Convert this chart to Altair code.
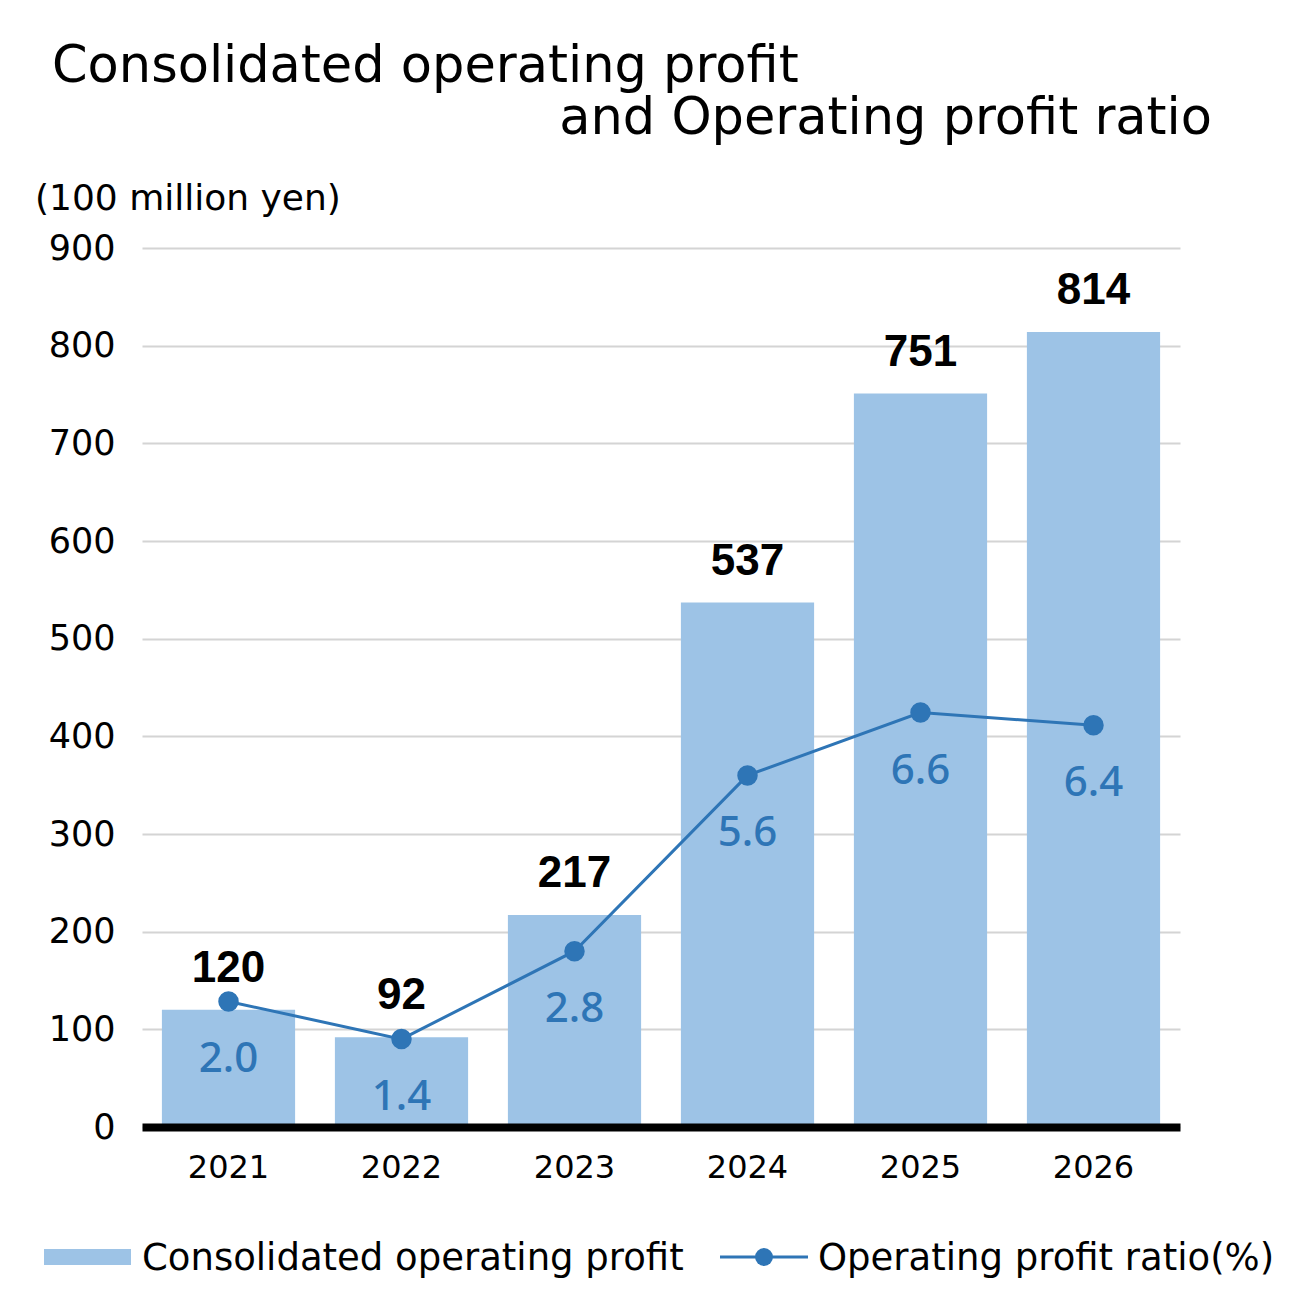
import altair as alt
import pandas as pd

# Fiscal years and values
years = ["2021", "2022", "2023", "2024", "2025", "2026"]
profit = [120, 92, 217, 537, 751, 814]          # 100 million yen
ratio = [2.0, 1.4, 2.8, 5.6, 6.6, 6.4]          # %
ratio_labels = ["2.0", "1.4", "2.8", "5.6", "6.6", "6.4"]
y_ticks = [0, 100, 200, 300, 400, 500, 600, 700, 800, 900]

title_lines = ["Consolidated operating profit", "and Operating profit ratio"]
unit_label = "(100 million yen)"
legend_labels = ["Consolidated operating profit", "Operating profit ratio(%)"]

df = pd.DataFrame({
    "year": years,
    "profit": profit,
    "ratio": ratio,
    "ratio_label": ratio_labels,
})

BAR = "#9dc3e6"
LINE = "#2e75b6"
FONT = "DejaVu Sans"
NUM_FONT = "Liberation Sans"

x_enc = alt.X(
    "year:N",
    title=None,
    scale=alt.Scale(paddingInner=0.23, paddingOuter=0.115),
    axis=alt.Axis(
        labelAngle=0, labelFont=FONT, labelFontSize=32, labelColor="black",
        labelPadding=25, ticks=False, domainColor="black", domainWidth=8,
        grid=False, zindex=1,
    ),
)

y_profit = alt.Y(
    "profit:Q",
    title=None,
    scale=alt.Scale(domain=[0, 900]),
    axis=alt.Axis(
        values=y_ticks, labelFont=FONT, labelFontSize=35, labelColor="black",
        labelPadding=27, ticks=False, domain=False,
        gridColor="#d4d4d4", gridWidth=2,
    ),
)

y_ratio = alt.Y("ratio:Q", title=None, scale=alt.Scale(domain=[0, 14]), axis=None)

bars = alt.Chart(df).mark_bar(color=BAR).encode(x=x_enc, y=y_profit)
bar_text = alt.Chart(df).mark_text(
    font=NUM_FONT, fontSize=44, fontWeight="bold", color="black",
    baseline="alphabetic", dy=-28,
).encode(x=x_enc, y=y_profit, text="profit:Q")

line = alt.Chart(df).mark_line(color=LINE, strokeWidth=3).encode(x=x_enc, y=y_ratio)
dots = alt.Chart(df).mark_circle(color=LINE, opacity=1, size=420).encode(x=x_enc, y=y_ratio)
ratio_text = alt.Chart(df).mark_text(
    font="Noto Sans", fontSize=42, fontWeight=500, color=LINE,
    baseline="alphabetic", dy=71,
).encode(x=x_enc, y=y_ratio, text="ratio_label:N")

left = alt.layer(bars, bar_text)
right = alt.layer(line, dots, ratio_text)

one = alt.Data(values=[{}])


def label(text, x, y, size, align="left", font=FONT, weight="normal"):
    return alt.Chart(one).mark_text(
        font=font, fontSize=size, fontWeight=weight, align=align,
        baseline="alphabetic", color="black",
    ).encode(x=alt.value(x), y=alt.value(y), text=alt.value(text))


title1 = label(title_lines[0], -90, -166, 51)
title2 = label(title_lines[1], 1070, -114, 51, align="right")
unit = label(unit_label, -107, -38, 36)

# legend
leg_rect = alt.Chart(one).mark_rect(color=BAR).encode(
    x=alt.value(-98), x2=alt.value(-11), y=alt.value(1001), y2=alt.value(1017)
)
leg_text1 = label(legend_labels[0], 0, 1022, 37)
leg_rule = alt.Chart(one).mark_rule(color=LINE, strokeWidth=3).encode(
    x=alt.value(578), x2=alt.value(666), y=alt.value(1009)
)
leg_dot = alt.Chart(one).mark_circle(color=LINE, opacity=1, size=320).encode(
    x=alt.value(622), y=alt.value(1009)
)
leg_text2 = label(legend_labels[1], 676, 1022, 37)

chart = alt.layer(
    left, right, title1, title2, unit,
    leg_rect, leg_text1, leg_rule, leg_dot, leg_text2,
).resolve_scale(y="independent").properties(
    width=1038,
    height=879,
    background="white",
    autosize=alt.AutoSizeParams(type="none"),
    padding={"left": 142, "top": 248, "right": 119, "bottom": 172},
).configure_view(stroke=None)

chart.save("out.html", embed_options={"renderer": "svg", "actions": False})
